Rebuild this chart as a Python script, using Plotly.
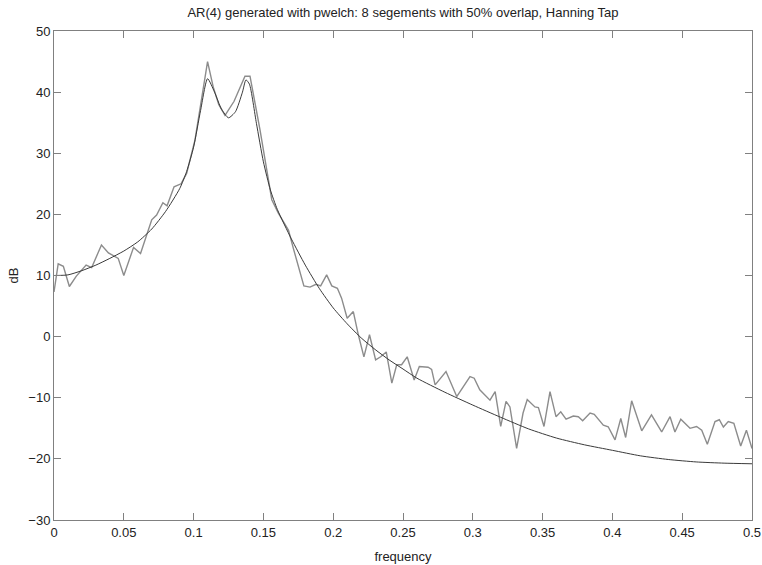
import plotly.graph_objects as go

# Theoretical AR(4) power spectrum (dB) at selected frequencies
freq_ar = [0.0, 0.01, 0.02, 0.03, 0.04, 0.05, 0.06, 0.07, 0.08, 0.09, 0.095,
           0.10, 0.105, 0.11, 0.115, 0.12, 0.125, 0.13, 0.135, 0.1375, 0.14,
           0.145, 0.15, 0.155, 0.16, 0.17, 0.18, 0.19, 0.20, 0.21, 0.22, 0.23,
           0.24, 0.25, 0.26, 0.28, 0.30, 0.32, 0.34, 0.36, 0.38, 0.40, 0.42,
           0.44, 0.46, 0.48, 0.50]
db_ar = [10.0, 10.1, 10.8, 11.7, 12.8, 14.0, 15.5, 17.6, 20.5, 24.2, 27.0,
         31.0, 37.0, 42.2, 40.0, 37.2, 35.8, 36.8, 40.0, 42.0, 41.3,
         34.9, 28.6, 24.0, 20.8, 16.0, 11.7, 7.9, 4.7, 2.1, -0.2, -2.1,
         -3.8, -5.3, -6.8, -9.1, -11.2, -13.2, -15.1, -16.6, -17.7, -18.6, -19.5,
         -20.1, -20.5, -20.7, -20.8]

# Welch estimate (8 segments, 50% overlap, Hanning taper)
freq_welch = [0.000, 0.003, 0.0067, 0.011, 0.016, 0.023, 0.027, 0.034, 0.039,
              0.046, 0.050, 0.057, 0.062, 0.070, 0.0735, 0.078, 0.081, 0.086,
              0.091, 0.095, 0.101, 0.1046, 0.1075, 0.110, 0.114, 0.118, 0.1225,
              0.129, 0.1368, 0.1404, 0.1476, 0.1535, 0.156, 0.1607, 0.168,
              0.1715, 0.175, 0.179, 0.1834, 0.1877, 0.191, 0.1953, 0.199, 0.203,
              0.206, 0.210, 0.2144, 0.218, 0.222, 0.226, 0.2304, 0.234, 0.238,
              0.242, 0.2455, 0.249, 0.253, 0.258, 0.2617, 0.268, 0.2705, 0.273,
              0.2808, 0.2885, 0.298, 0.301, 0.305, 0.3123, 0.316, 0.320, 0.3238,
              0.3266, 0.3314, 0.336, 0.339, 0.3445, 0.347, 0.351, 0.3553, 0.3596,
              0.363, 0.3668, 0.372, 0.3756, 0.3787, 0.384, 0.387, 0.3935, 0.397,
              0.4019, 0.406, 0.4095, 0.4138, 0.421, 0.428, 0.4353, 0.4413, 0.4448,
              0.449, 0.4556, 0.4603, 0.464, 0.468, 0.4735, 0.4766, 0.4795, 0.483,
              0.487, 0.4919, 0.496, 0.500]
db_welch = [7.3, 11.9, 11.5, 8.2, 9.9, 11.7, 11.3, 15.0, 13.7,
            12.8, 10.0, 14.6, 13.6, 19.1, 19.9, 21.9, 21.4, 24.5,
            25.0, 26.7, 32.2, 37.1, 41.4, 45.0, 40.9, 38.0, 36.2,
            38.5, 42.6, 42.6, 33.8, 25.6, 22.4, 20.2, 17.4,
            14.4, 11.7, 8.3, 8.1, 8.55, 8.3, 10.1, 8.3, 7.9,
            6.3, 3.0, 4.1, 0.3, -3.3, 0.3, -3.8, -3.3, -2.5,
            -7.6, -4.6, -4.6, -3.3, -7.1, -4.9, -5.0, -5.35, -7.9,
            -5.7, -9.8, -6.55, -6.8, -8.7, -10.4, -9.0, -14.7, -10.6,
            -11.5, -18.3, -12.5, -10.3, -11.5, -11.6, -14.7, -9.0, -13.1,
            -12.3, -13.5, -13.0, -13.1, -13.75, -12.5, -12.7, -14.5, -14.75,
            -16.9, -13.4, -16.5, -10.5, -15.4, -12.8, -15.6, -13.1, -15.6,
            -13.5, -15.0, -14.7, -15.3, -17.6, -13.9, -13.6, -14.8, -13.9,
            -14.2, -17.9, -15.3, -18.3]

x_ticks = [0, 0.05, 0.1, 0.15, 0.2, 0.25, 0.3, 0.35, 0.4, 0.45, 0.5]
x_tick_text = ["0", "0.05", "0.1", "0.15", "0.2", "0.25", "0.3", "0.35", "0.4", "0.45", "0.5"]
y_ticks = [-30, -20, -10, 0, 10, 20, 30, 40, 50]

FONT = "Liberation Sans, Arial, sans-serif"

fig = go.Figure()
fig.add_trace(go.Scatter(x=freq_welch, y=db_welch, mode="lines",
                         line=dict(color="#8c8c8c", width=1.4),
                         showlegend=False))
fig.add_trace(go.Scatter(x=freq_ar, y=db_ar, mode="lines",
                         line=dict(color="#3a3a3a", width=1, shape="spline", smoothing=0.6),
                         showlegend=False))

axis_common = dict(
    showline=True, linecolor="#808080", linewidth=1, mirror="ticks",
    ticks="inside", ticklen=7, tickcolor="#808080", tickwidth=1,
    showgrid=False, zeroline=False, automargin=False,
    tickfont=dict(family=FONT, size=13, color="#222222"),
)

fig.update_layout(
    width=762, height=565,
    margin=dict(l=54, r=10, t=31, b=45),
    paper_bgcolor="white", plot_bgcolor="white",
    title=dict(text="AR(4) generated with pwelch: 8 segements with 50% overlap, Hanning Tap",
               x=0.5, xref="paper", y=0.978, yref="container", xanchor="center",
               yanchor="middle",
               font=dict(family=FONT, size=13, color="#222222")),
    xaxis=dict(range=[0, 0.5], tickvals=x_ticks, ticktext=x_tick_text,
               title=dict(text="frequency", standoff=13,
                          font=dict(family=FONT, size=13, color="#222222")),
               **axis_common),
    yaxis=dict(range=[-30, 50], tickvals=y_ticks,
               title=dict(text="dB", standoff=6,
                          font=dict(family=FONT, size=13, color="#222222")),
               **axis_common),
)

fig.write_html("out.html")
